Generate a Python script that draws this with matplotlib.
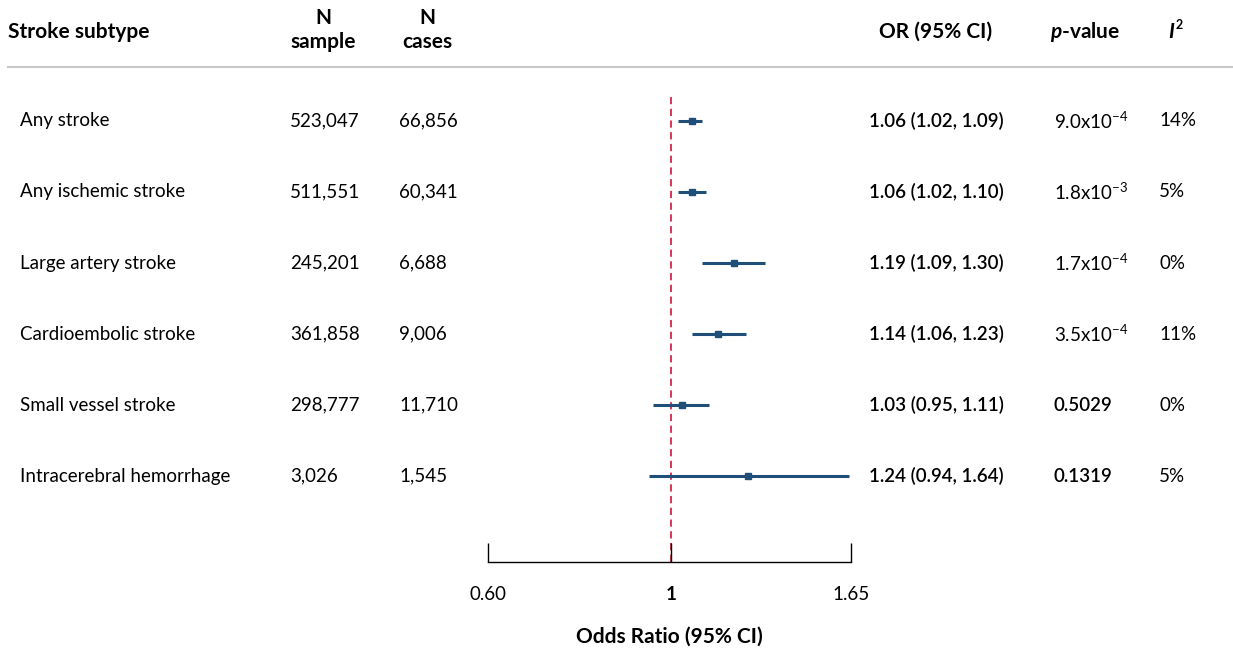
#!/usr/bin/env python3
"""Forest plot of stroke subtype odds ratios."""

import matplotlib

matplotlib.use("Agg")
import matplotlib.pyplot as plt
from matplotlib.lines import Line2D
from matplotlib.transforms import blended_transform_factory

plt.rcParams["font.family"] = ["Lato", "DejaVu Sans"]
plt.rcParams["mathtext.fontset"] = "custom"
plt.rcParams["mathtext.rm"] = "Lato"
plt.rcParams["mathtext.it"] = "Lato:italic"
plt.rcParams["mathtext.bf"] = "Lato:bold"
plt.rcParams["mathtext.bfit"] = "Lato:italic:bold"

subtypes = [
    "Any stroke",
    "Any ischemic stroke",
    "Large artery stroke",
    "Cardioembolic stroke",
    "Small vessel stroke",
    "Intracerebral hemorrhage",
]
n_sample = ["523,047", "511,551", "245,201", "361,858", "298,777", "3,026"]
n_cases = ["66,856", "60,341", "6,688", "9,006", "11,710", "1,545"]
odds = [1.06, 1.06, 1.19, 1.14, 1.03, 1.24]
ci_low = [1.02, 1.02, 1.09, 1.06, 0.95, 0.94]
ci_high = [1.09, 1.10, 1.30, 1.23, 1.11, 1.64]
p_values = [
    r"9.0x10$^{-4}$",
    r"1.8x10$^{-3}$",
    r"1.7x10$^{-4}$",
    r"3.5x10$^{-4}$",
    "0.5029",
    "0.1319",
]
p_bold = [False, False, False, False, True, True]
i2 = ["14%", "5%", "0%", "11%", "0%", "5%"]
x_ticks = [0.60, 1, 1.65]
x_tick_labels = ["0.60", "1", "1.65"]

W, H = 1233, 648
fig = plt.figure(figsize=(W / 100, H / 100), dpi=100)


def fx(px):
    return px / W


def fy(py):
    return 1 - py / H


ax = fig.add_axes([fx(488), fy(562), fx(851) - fx(488), fy(67) - fy(562)])
ax.set_xscale("log")
ax.set_xlim(0.60, 1.65)
ax.set_ylim(6.21, -0.76)

blue = "#1f4e79"
rows = list(range(len(subtypes)))
ax.vlines(1, -0.34, 6.21, colors="#d6254d", linestyles=(0, (4, 2.5)), linewidth=1.3, zorder=1)
ax.hlines(rows, ci_low, ci_high, colors=blue, linewidth=2.2, zorder=2)
ax.plot(odds, rows, "s", color=blue, markersize=5, zorder=3)

for side in ["top", "left", "right"]:
    ax.spines[side].set_visible(False)
ax.spines["bottom"].set_linewidth(1.0)
ax.set_yticks([])
ax.set_xticks(x_ticks)
ax.set_xticklabels(x_tick_labels)
ax.minorticks_off()
fs = 13.5
hfs = 15
ax.tick_params(axis="x", direction="in", length=14, width=1.0, labelsize=fs, pad=17)
ax.get_xticklabels()[1].set_fontweight("bold")
ax.set_xlabel("Odds Ratio (95% CI)", fontsize=hfs, fontweight="bold", labelpad=17)

tr = blended_transform_factory(fig.transFigure, ax.transData)
for i in rows:
    ax.text(fx(20), i, subtypes[i], transform=tr, fontsize=fs, va="center")
    ax.text(fx(290), i, n_sample[i], transform=tr, fontsize=fs, va="center")
    ax.text(fx(399), i, n_cases[i], transform=tr, fontsize=fs, va="center")
    ax.text(fx(869), i, f"{odds[i]:.2f} ({ci_low[i]:.2f}, {ci_high[i]:.2f})",
            transform=tr, fontsize=fs, va="center", fontweight="semibold")
    ax.text(fx(1054), i, p_values[i], transform=tr, fontsize=fs, va="center",
            fontweight="semibold" if p_bold[i] else "normal")
    ax.text(fx(1159), i, i2[i], transform=tr, fontsize=fs, va="center")

# header
fig.text(fx(8), fy(32), "Stroke subtype", fontsize=hfs, fontweight="bold", va="center")
fig.text(fx(323), fy(30), "N\nsample", fontsize=hfs, fontweight="bold", va="center",
         ha="center", linespacing=1.25)
fig.text(fx(427), fy(30), "N\ncases", fontsize=hfs, fontweight="bold", va="center",
         ha="center", linespacing=1.25)
fig.text(fx(936), fy(32), "OR (95% CI)", fontsize=hfs, fontweight="bold", va="center", ha="center")
fig.text(fx(1050), fy(32), r"$\mathbfit{p}$-value", fontsize=hfs, fontweight="bold", va="center")
fig.text(fx(1168), fy(32), "I", fontsize=hfs, fontweight="bold", style="italic", va="center")
fig.text(fx(1176), fy(25), "2", fontsize=9, fontweight="bold", va="center")
fig.add_artist(Line2D([fx(8), 1], [fy(67), fy(67)], color="#c8c8c8", linewidth=1.5,
                      transform=fig.transFigure))

fig.savefig("out.png", dpi=100)
